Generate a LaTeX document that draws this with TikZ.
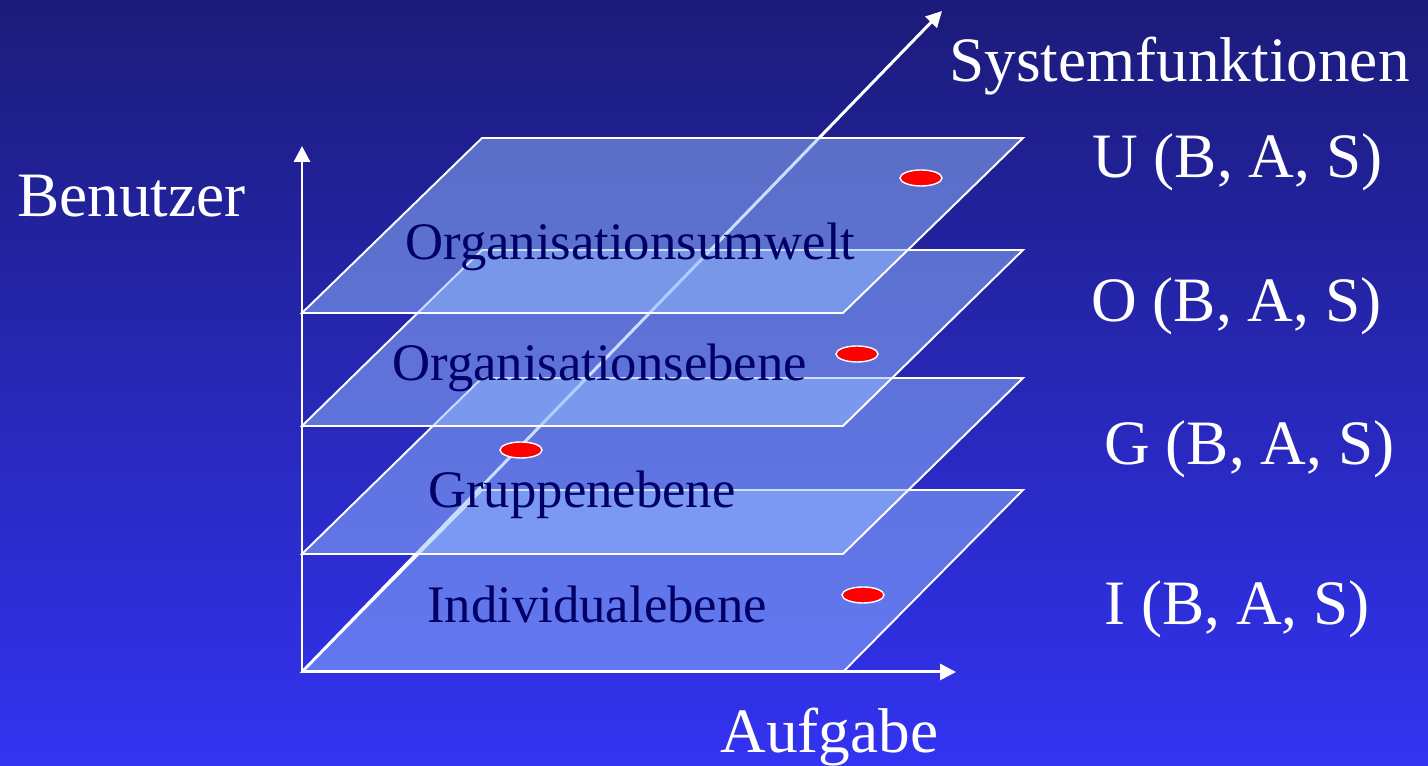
\documentclass[tikz,border=0pt]{standalone}
\usepackage{fontspec}
\setmainfont{Liberation Serif}
\definecolor{hgoben}{RGB}{27,27,122}
\definecolor{hgunten}{RGB}{51,51,242}
\definecolor{ebenenblau}{RGB}{150,190,255}
\definecolor{schrift}{RGB}{0,0,102}
\definecolor{punktrot}{RGB}{255,0,0}
\usetikzlibrary{arrows.meta,shapes.geometric}

\begin{document}
\begin{tikzpicture}[x=0.02cm,y=0.02cm,
    achse/.style={draw=white,line width=1.7pt,-{Triangle[length=9pt,width=9pt]}},
    ebene/.style={draw=white,line width=1.1pt,fill=ebenenblau,fill opacity=0.5},
    punkt/.style={ellipse,draw=white,line width=0.8pt,fill=punktrot,
                  minimum width=0.84cm,minimum height=0.32cm,inner sep=0pt},
    titel/.style={font=\fontsize{36}{43}\selectfont,text=white,anchor=base west,inner sep=0pt},
    ebenenname/.style={font=\fontsize{30}{36}\selectfont,text=schrift,anchor=base west,inner sep=0pt}]

  \useasboundingbox (0,0) rectangle (1428,766);
  \shade[top color=hgoben,bottom color=hgunten] (0,0) rectangle (1428,766);

  \coordinate (ursprung) at (302,94);
  \coordinate (benutzerspitze) at (302,620);
  \coordinate (aufgabespitze) at (956,94);
  \coordinate (systemspitze) at (942,755);

  % Systemfunktionen-Achse liegt unter den Ebenen
  \draw[achse] (ursprung) -- (systemspitze);

  % Ebenen
  \foreach \b/\h in {94/182,212/176,340/176,453/175}{
    \draw[ebene] (302,\b) -- ++(541,0) -- ++(180,\h) -- ++(-541,0) -- cycle;
  }

  % Achsen
  \draw[achse] (ursprung) -- (benutzerspitze);
  \draw[achse] (ursprung) -- (aufgabespitze);

  % Punkte
  \node[punkt] (pU) at (921,588) {};
  \node[punkt] (pO) at (857,412) {};
  \node[punkt] (pG) at (521,316) {};
  \node[punkt] (pI) at (863,171) {};

  % Ebenennamen
  \node[ebenenname] (ebU) at (405,506) {Organisationsumwelt};
  \node[ebenenname] (ebO) at (392,385) {Organisationsebene};
  \node[ebenenname] (ebG) at (428,258) {Gruppenebene};
  \node[ebenenname] (ebI) at (427,143) {Individualebene};

  % Achsen- und Funktionsbeschriftung
  \node[titel] (benutzer) at (17,549) {Benutzer};
  \node[titel] (aufgabe) at (720,13) {Aufgabe};
  \node[titel] (system) at (949,684) {Systemfunktionen};
  \node[titel] (fU) at (1092,588) {U (B, A, S)};
  \node[titel] (fO) at (1091,444) {O (B, A, S)};
  \node[titel] (fG) at (1104,301) {G (B, A, S)};
  \node[titel] (fI) at (1104,141) {I (B, A, S)};
\end{tikzpicture}
\end{document}
